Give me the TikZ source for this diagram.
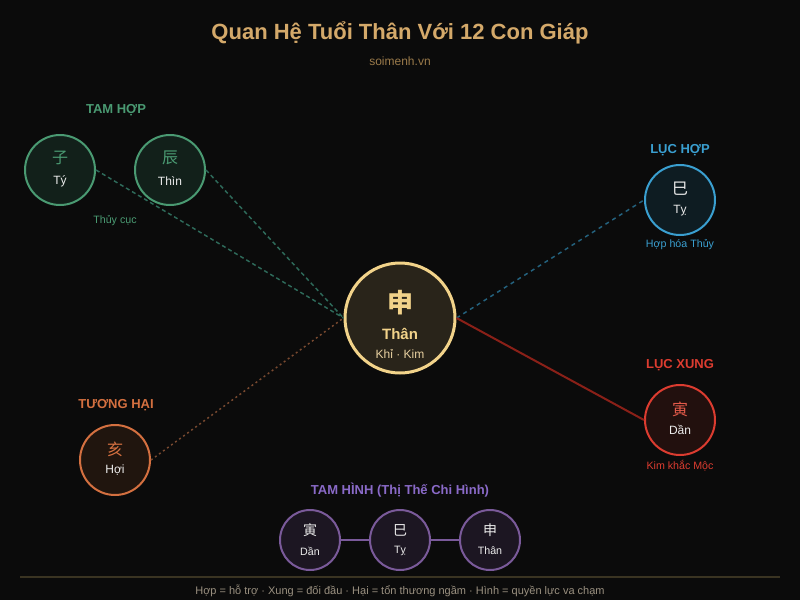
\documentclass[tikz,border=0pt]{standalone}
\usepackage{fontspec}
\setmainfont{Liberation Sans}
\newfontfamily\cjk{Noto Sans CJK SC}
\usepackage{tikz}

\definecolor{bgdark}{HTML}{0B0B0B}
\definecolor{titlegold}{HTML}{D4A96A}
\definecolor{sitegold}{HTML}{9A7A4A}
\definecolor{thanfill}{HTML}{29241A}
\definecolor{thangold}{HTML}{F2D38A}
\definecolor{thansub}{HTML}{E8D0A0}
\definecolor{hopgreen}{HTML}{4A9A72}
\definecolor{hopfill}{HTML}{12201A}
\definecolor{hopline}{HTML}{2E6A5A}
\definecolor{lucblue}{HTML}{3A9FD0}
\definecolor{lucfill}{HTML}{0E1C22}
\definecolor{lucline}{HTML}{24627E}
\definecolor{xungred}{HTML}{DC3C30}
\definecolor{xungchar}{HTML}{E25A4A}
\definecolor{xungfill}{HTML}{22100E}
\definecolor{xungline}{HTML}{8A2018}
\definecolor{haiorange}{HTML}{D47040}
\definecolor{haifill}{HTML}{20150E}
\definecolor{hailine}{HTML}{7A4A30}
\definecolor{hinhpurple}{HTML}{8A6AC8}
\definecolor{hinhstroke}{HTML}{7A5A9A}
\definecolor{hinhfill}{HTML}{1C1622}
\definecolor{namewhite}{HTML}{ECECEC}
\definecolor{rulegold}{HTML}{3A3422}
\definecolor{footgrey}{HTML}{9A9080}

\begin{document}
\begin{tikzpicture}[x=0.75pt,y=0.75pt,yscale=-1,xscale=1,
  zodiac/.style={circle,line width=1.5pt,minimum size=52.5pt,inner sep=0pt},
  smallzodiac/.style={circle,line width=1.5pt,minimum size=45pt,inner sep=0pt},
  chinese/.style={inner sep=0pt,font=\cjk\fontsize{12pt}{14pt}\selectfont},
  zname/.style={inner sep=0pt,text=namewhite,font=\fontsize{9pt}{11pt}\selectfont},
  grouplabel/.style={inner sep=0pt,font=\bfseries\fontsize{9.75pt}{12pt}\selectfont},
  note/.style={inner sep=0pt,font=\fontsize{8pt}{9.5pt}\selectfont}]

%Background
\fill[bgdark] (0,0) rectangle (800,600);
\useasboundingbox (0,0) rectangle (800,600);

% Title
\node[inner sep=0pt,text=titlegold,font=\bfseries\fontsize{16.5pt}{19pt}\selectfont] (title) at (400,33) {Quan Hệ Tuổi Thân Với 12 Con Giáp};
\node[inner sep=0pt,text=sitegold,font=\fontsize{9pt}{11pt}\selectfont] (site) at (400,61) {soimenh.vn};

%Center circle
\node[circle,draw=thangold,fill=thanfill,line width=2.25pt,minimum size=82.5pt,inner sep=0pt] (than) at (400,318) {};
\node[inner sep=0pt,text=thangold,font=\cjk\bfseries\fontsize{19.5pt}{22pt}\selectfont] (thanc) at (400,303) {申};
\node[inner sep=0pt,text=thangold,font=\bfseries\fontsize{11.25pt}{13pt}\selectfont] (thann) at (400,334) {Thân};
\node[inner sep=0pt,text=thansub,font=\fontsize{9pt}{11pt}\selectfont] (thans) at (400,354) {Khỉ · Kim};

% Tam hop
\node[grouplabel,text=hopgreen] (tamhop) at (116,110) {TAM HỢP};
\node[zodiac,draw=hopgreen,fill=hopfill] (ty) at (60,170) {};
\node[chinese,text=hopgreen] (tyc) at (60,158) {子};
\node[zname] (tyn) at (60,181) {Tý};
\node[zodiac,draw=hopgreen,fill=hopfill] (thin) at (170,170) {};
\node[chinese,text=hopgreen] (thinc) at (170,158) {辰};
\node[zname] (thinn) at (170,181) {Thìn};
\node[note,text=hopgreen] (thuycuc) at (115,221) {Thủy cục};

% Luc hop
\node[grouplabel,text=lucblue] (luchop) at (680,150) {LỤC HỢP};
\node[zodiac,draw=lucblue,fill=lucfill] (tyj) at (680,200) {};
\node[chinese,text=namewhite] (tyjc) at (680,189) {巳};
\node[zname] (tyjn) at (680,211) {Tỵ};
\node[note,text=lucblue] (hophoa) at (680,245) {Hợp hóa Thủy};

% Luc xung
\node[grouplabel,text=xungred] (lucxung) at (680,365) {LỤC XUNG};
\node[zodiac,draw=xungred,fill=xungfill] (dan) at (680,420) {};
\node[chinese,text=xungchar] (danc) at (680,409) {寅};
\node[zname] (dann) at (680,430) {Dần};
\node[note,text=xungred] (kimkhac) at (680,466) {Kim khắc Mộc};

% Tuong hai
\node[grouplabel,text=haiorange] (tuonghai) at (116,405) {TƯƠNG HẠI};
\node[zodiac,draw=haiorange,fill=haifill] (hoi) at (115,460) {};
\node[chinese,text=haiorange] (hoic) at (115,449) {亥};
\node[zname] (hoin) at (115,470) {Hợi};

% Tam hinh
\node[grouplabel,text=hinhpurple] (tamhinh) at (400,490) {TAM HÌNH (Thị Thế Chi Hình)};
\node[smallzodiac,draw=hinhstroke,fill=hinhfill] (hdan) at (310,540) {};
\node[smallzodiac,draw=hinhstroke,fill=hinhfill] (htyj) at (400,540) {};
\node[smallzodiac,draw=hinhstroke,fill=hinhfill] (hthan) at (490,540) {};
\node[chinese,text=namewhite,font=\cjk\fontsize{10.5pt}{12pt}\selectfont] (hdanc) at (310,530) {寅};
\node[chinese,text=namewhite,font=\cjk\fontsize{10.5pt}{12pt}\selectfont] (htyjc) at (400,530) {巳};
\node[chinese,text=namewhite,font=\cjk\fontsize{10.5pt}{12pt}\selectfont] (hthanc) at (490,530) {申};
\node[zname,font=\fontsize{8pt}{10pt}\selectfont] (hdann) at (310,551) {Dần};
\node[zname,font=\fontsize{8pt}{10pt}\selectfont] (htyjn) at (400,551) {Tỵ};
\node[zname,font=\fontsize{8pt}{10pt}\selectfont] (hthann) at (490,551) {Thân};
\draw[hinhstroke,line width=1.1pt] (hdan) -- (htyj);
\draw[hinhstroke,line width=1.1pt] (htyj) -- (hthan);

%Connectors
\draw[hopline,line width=1.1pt,dash pattern=on 3pt off 2.25pt] (ty.east) -- (than.west);
\draw[hopline,line width=1.1pt,dash pattern=on 3pt off 2.25pt] (thin.east) -- (than.west);
\draw[lucline,line width=1.1pt,dash pattern=on 3pt off 3pt] (than.east) -- (tyj.west);
\draw[xungline,line width=1.5pt] (than.east) -- (dan.west);
\draw[hailine,line width=1.1pt,dash pattern=on 1.5pt off 2.25pt] (hoi.east) -- (than.west);

% Footer
\draw[rulegold,line width=1.5pt] (20,577) -- (780,577);
\node[inner sep=0pt,text=footgrey,font=\fontsize{8.25pt}{10pt}\selectfont] (footer) at (400,591) {Hợp = hỗ trợ · Xung = đối đầu · Hại = tổn thương ngầm · Hình = quyền lực va chạm};

\end{tikzpicture}
\end{document}
